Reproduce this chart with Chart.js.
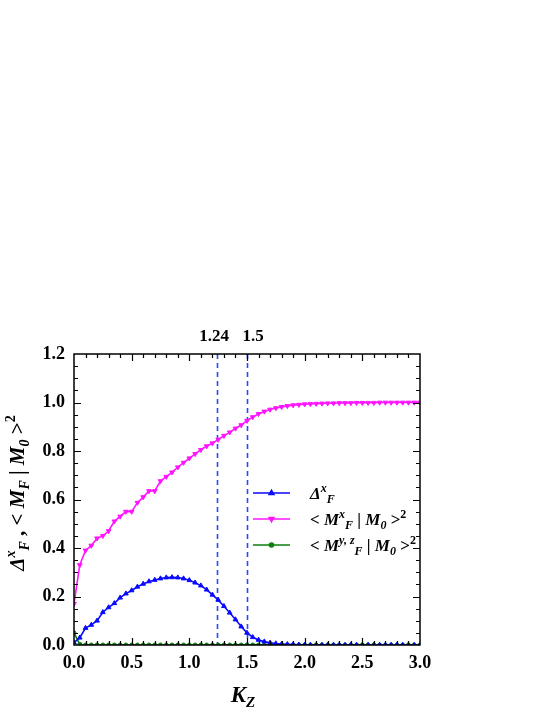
<!DOCTYPE html>
<html><head><meta charset="utf-8">
<script src="https://cdn.jsdelivr.net/npm/chart.js@4.4.1/dist/chart.umd.min.js"></script>
<style>html,body{margin:0;padding:0;background:#fff;}#wrap{width:548px;height:709px;position:relative;}</style>
</head><body><div id="wrap"><canvas id="c"></canvas></div>
<script>
const kz = [0,0.05,0.1,0.15,0.2,0.25,0.3,0.35,0.4,0.45,0.5,0.55,0.6,0.65,0.7,0.75,0.8,0.85,0.9,0.95,1.0,1.05,1.1,1.15,1.2,1.25,1.3,1.35,1.4,1.45,1.5,1.55,1.6,1.65,1.7,1.75,1.8,1.85,1.9,1.95,2.0,2.05,2.1,2.15,2.2,2.25,2.3,2.35,2.4,2.45,2.5,2.55,2.6,2.65,2.7,2.75,2.8,2.85,2.9,2.95,3.0];
const deltaX = [0.01,0.03,0.07,0.083,0.10,0.135,0.155,0.172,0.195,0.212,0.225,0.24,0.252,0.262,0.268,0.274,0.278,0.279,0.278,0.274,0.267,0.257,0.245,0.228,0.207,0.186,0.16,0.133,0.105,0.076,0.05,0.032,0.021,0.014,0.009,0.006,0.004,0.003,0.002,0.001,0,0,0,0,0,0,0,0,0,0,0,0,0,0,0,0,0,0,0,0,0];
const mxOverlap = [0.17,0.33,0.39,0.41,0.44,0.45,0.47,0.51,0.53,0.55,0.55,0.587,0.61,0.635,0.635,0.676,0.694,0.712,0.733,0.752,0.77,0.788,0.805,0.82,0.832,0.847,0.863,0.877,0.893,0.907,0.925,0.94,0.953,0.963,0.971,0.977,0.982,0.986,0.989,0.991,0.993,0.994,0.995,0.996,0.997,0.997,0.998,0.998,0.998,0.999,0.999,0.999,0.999,1.0,1.0,1.0,1.0,1.0,1.0,1.0,1.0];
const myzOverlap = [0.05,0.003,0,0,0,0,0,0,0,0,0,0,0,0,0,0,0,0,0,0,0,0,0,0,0,0,0,0,0,0,0,0,0,0,0,0,0,0,0,0,0,0,0,0,0,0,0,0,0,0,0,0,0,0,0,0,0,0,0,0,0];
const markLines = [1.24, 1.5];
const markLabels = ['1.24', '1.5'];
const xTickStep = 0.5, yTickStep = 0.2;

const SERIF = '"Liberation Serif","Times New Roman",serif';
const colBlue = '#0a0aff', colMag = '#ff14ff', colGreen = '#0a800a', colDash = '#2848ff';

function pts(ys){ return kz.map((x,i)=>({x:x,y:ys[i]})); }

function drawRich(ctx, x, y, segs, align){
  let w = 0;
  segs.forEach(s=>{ ctx.font = s.f; s.w = ctx.measureText(s.t).width; w += s.w + (s.gap||0); });
  let cx = align==='center' ? x - w/2 : x;
  ctx.textBaseline = 'alphabetic'; ctx.textAlign = 'left';
  segs.forEach(s=>{ ctx.font = s.f; ctx.fillText(s.t, cx, y + (s.dy||0)); cx += s.w + (s.gap||0); });
}
const BI = n => 'italic bold ' + n + 'px ' + SERIF;
const B = n => 'bold ' + n + 'px ' + SERIF;

const decor = {
  id:'decor',
  beforeDatasetsDraw(chart){
    const {ctx, chartArea:a, scales:{x}} = chart;
    ctx.save();
    ctx.strokeStyle = colDash; ctx.lineWidth = 1.6; ctx.setLineDash([5,4]);
    markLines.forEach(v=>{ const px = Math.round(x.getPixelForValue(v))+0.5; ctx.beginPath(); ctx.moveTo(px,a.top); ctx.lineTo(px,a.bottom); ctx.stroke(); });
    ctx.restore();
  },
  afterDatasetsDraw(chart){
    const {ctx, chartArea:a, scales:{x,y}} = chart;
    ctx.save();
    ctx.strokeStyle = '#000'; ctx.lineWidth = 1.2;
    for(let i=1;i<30;i++){
      const px = Math.round(x.getPixelForValue(i/10))+0.5, L = i%5===0?7:4;
      ctx.beginPath(); ctx.moveTo(px,a.bottom); ctx.lineTo(px,a.bottom-L); ctx.moveTo(px,a.top); ctx.lineTo(px,a.top+L); ctx.stroke();
    }
    for(let i=1;i<24;i++){
      const py = Math.round(y.getPixelForValue(i*0.05))+0.5, L = i%4===0?7:4;
      ctx.beginPath(); ctx.moveTo(a.left,py); ctx.lineTo(a.left+L,py); ctx.moveTo(a.right,py); ctx.lineTo(a.right-L,py); ctx.stroke();
    }
    ctx.lineWidth = 1.5;
    ctx.strokeRect(a.left, a.top, a.right-a.left, a.bottom-a.top);
    ctx.fillStyle = '#000';
    ctx.font = B(17); ctx.textAlign='center'; ctx.textBaseline='alphabetic';
    const offs = [-3, 6];
    markLines.forEach((v,i)=>{ ctx.fillText(markLabels[i], x.getPixelForValue(v)+offs[i], a.top-13); });
    drawRich(ctx, (a.left+a.right)/2 - 4, 702, [{t:'K',f:BI(23)},{t:'Z',f:BI(15),dy:5}], 'center');
    ctx.save(); ctx.translate(24, 493); ctx.rotate(-Math.PI/2);
    drawRich(ctx, 0, 0, [
      {t:'Δ',f:BI(21)},{t:'x',f:BI(14),dy:-9},{t:'F',f:BI(14),dy:5},{t:' , <',f:B(21)},{t:' M',f:BI(21)},{t:'F',f:BI(14),dy:5},
      {t:' | ',f:B(21)},{t:'M',f:BI(21)},{t:'0',f:BI(14),dy:5},{t:' >',f:B(21)},{t:'2',f:B(14),dy:-9}], 'center');
    ctx.restore();
    const items = [
      {c:colBlue, ps:'triangle', rot:0, r:2.7, segs:[{t:'Δ',f:BI(17)},{t:'x',f:BI(12),dy:-7},{t:'F',f:BI(12),dy:4}]},
      {c:colMag, ps:'triangle', rot:180, r:2.7, segs:[{t:'< ',f:B(17)},{t:'M',f:BI(17)},{t:'x',f:BI(12),dy:-7},{t:'F',f:BI(12),dy:4},{t:' | ',f:B(17)},{t:'M',f:BI(17)},{t:'0',f:BI(12),dy:4},{t:' >',f:B(17)},{t:'2',f:B(12),dy:-7}]},
      {c:colGreen, ps:'circle', rot:0, r:2.0, segs:[{t:'< ',f:B(17)},{t:'M',f:BI(17)},{t:'y, z',f:BI(12),dy:-7},{t:'F',f:BI(12),dy:4},{t:' | ',f:B(17)},{t:'M',f:BI(17)},{t:'0',f:BI(12),dy:4},{t:' >',f:B(17)},{t:'2',f:B(12),dy:-7}]}
    ];
    const rows = [493, 519, 545];
    items.forEach((it,i)=>{
      const ry = rows[i];
      ctx.strokeStyle = it.c; ctx.lineWidth = 1.6; ctx.setLineDash([]);
      ctx.beginPath(); ctx.moveTo(253, ry); ctx.lineTo(290, ry); ctx.stroke();
      ctx.fillStyle = it.c;
      Chart.helpers.drawPoint(ctx, {pointStyle:it.ps, rotation:it.rot, radius:it.r, borderWidth:1}, 271.5, ry);
      ctx.fillStyle = '#000';
      drawRich(ctx, 310, ry+6, it.segs, 'left');
    });
    ctx.restore();
  }
};

new Chart(document.getElementById('c'), {
  type:'line',
  data:{ datasets:[
    {label:'Δx_F', data:pts(deltaX), borderColor:colBlue, backgroundColor:colBlue, borderWidth:1.6, pointStyle:'triangle', pointRadius:2.7, pointBorderWidth:1, tension:0},
    {label:'<Mx_F|M0>^2', data:pts(mxOverlap), borderColor:colMag, backgroundColor:colMag, borderWidth:1.6, pointStyle:'triangle', pointRotation:180, pointRadius:2.7, pointBorderWidth:1, tension:0},
    {label:'<My,z_F|M0>^2', data:pts(myzOverlap), borderColor:colGreen, backgroundColor:colGreen, borderWidth:1.6, pointStyle:'circle', pointRadius:2.0, pointBorderWidth:1, tension:0}
  ]},
  options:{
    responsive:true, maintainAspectRatio:false, animation:false, devicePixelRatio:1,
    layout:{padding:{left:0, top:354, right:128, bottom:0}},
    plugins:{legend:{display:false}, tooltip:{enabled:false}},
    scales:{
      x:{type:'linear', min:0, max:3, grid:{display:false, drawTicks:false}, border:{display:false},
         ticks:{stepSize:xTickStep, padding:8, color:'#000', font:{family:SERIF, size:18, weight:'bold'}, callback:v=>Number(v).toFixed(1), maxRotation:0},
         afterFit(s){ s.height = 64; }},
      y:{type:'linear', min:0, max:1.2, grid:{display:false, drawTicks:false}, border:{display:false},
         ticks:{stepSize:yTickStep, padding:9, color:'#000', font:{family:SERIF, size:18, weight:'bold'}, callback:v=>Number(v).toFixed(1)},
         afterFit(s){ s.width = 74; }}
    }
  },
  plugins:[decor]
});
</script></body></html>
